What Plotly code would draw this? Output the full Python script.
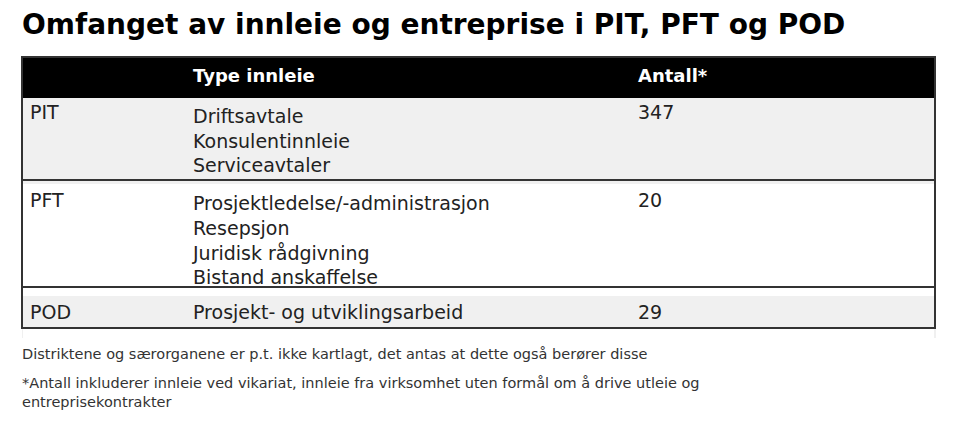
import plotly.graph_objects as go

title = "Omfanget av innleie og entreprise i PIT, PFT og POD"
headers = ["", "Type innleie", "Antall*"]
units = ["PIT", "PFT", "POD"]
types = [["Driftsavtale", "Konsulentinnleie", "Serviceavtaler"],
         ["Prosjektledelse/-administrasjon", "Resepsjon", "Juridisk rådgivning", "Bistand anskaffelse"],
         ["Prosjekt- og utviklingsarbeid"]]
counts = [347, 20, 29]
notes = ["Distriktene og særorganene er p.t. ikke kartlagt, det antas at dette også berører disse",
         "*Antall inkluderer innleie ved vikariat, innleie fra virksomhet uten formål om å drive utleie og<br>entreprisekontrakter"]

fills = ["#f0f0f0", "#ffffff", "#f0f0f0"]
font = "DejaVu Sans"
OX, OY = 8, 8  # page body margin
def px(x): return (x - OX) / 960
def py(y): return 1 - (y - OY) / 422

fig = go.Figure(go.Table(
    domain=dict(x=[px(22), px(935)], y=[0.0, py(57)]),
    columnwidth=[163, 445, 305],
    header=dict(values=["<b>%s</b>" % h for h in headers], fill_color="black",
                font=dict(color="white", size=18, family=font), align="left", height=40,
                line=dict(color="black", width=1)),
    cells=dict(values=[units, ["<br>".join(t) for t in types], [str(c) for c in counts]],
               fill_color=[fills]*3, line=dict(color=[fills]*3, width=1),
               font=dict(color="#222", size=19, family=font), align="left", height=41),
))
rows = [97, 180, 287, 328]
for y in rows[1:-1]:
    fig.add_shape(type="line", xref="paper", yref="paper", x0=px(22), x1=px(935),
                  y0=py(y), y1=py(y), line=dict(color="#333", width=2))
fig.add_shape(type="rect", xref="paper", yref="paper", x0=px(22), x1=px(935),
              y0=py(328), y1=py(57), line=dict(color="#333", width=2))
fig.add_shape(type="rect", xref="paper", yref="paper", x0=px(23), x1=px(934),
              y0=py(420), y1=py(329), line=dict(width=0), fillcolor="white")
fig.add_annotation(text="<b>%s</b>" % title, x=px(20), y=py(6), xref="paper", yref="paper",
                   xanchor="left", yanchor="top", showarrow=False,
                   font=dict(size=28, family=font, color="black"))
fig.add_annotation(text=notes[0], x=px(20), y=py(344), xref="paper", yref="paper",
                   xanchor="left", yanchor="top", showarrow=False, align="left",
                   font=dict(size=14.5, family=font, color="#333"))
fig.add_annotation(text=notes[1], x=px(20), y=py(373), xref="paper", yref="paper",
                   xanchor="left", yanchor="top", showarrow=False, align="left",
                   font=dict(size=14.5, family=font, color="#333"))
fig.update_layout(width=960, height=422, margin=dict(l=0, r=0, t=0, b=0),
                  paper_bgcolor="white")
fig.write_html("out.html")
